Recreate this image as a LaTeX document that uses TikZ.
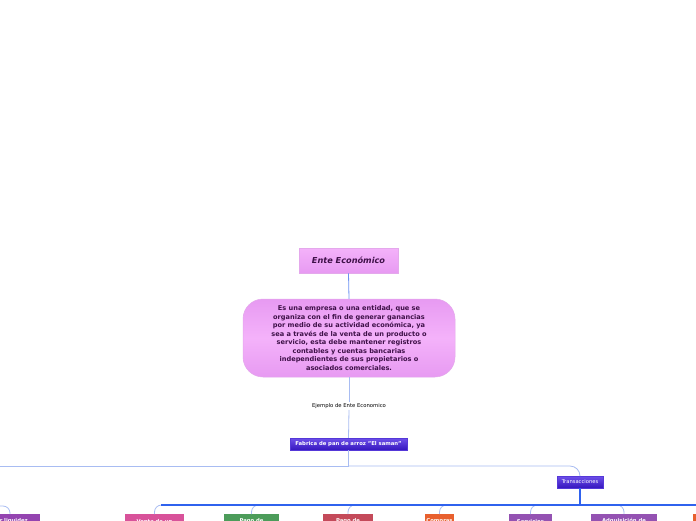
\documentclass[tikz,border=0pt]{standalone}
\usepackage{fontspec}
\setmainfont{DejaVu Sans}
\begin{document}
\begin{tikzpicture}[x=1pt,y=-1pt,
  lconn/.style={draw=lightline, line width=0.8pt},
  bar/.style={draw=barblue, line width=1.8pt},
  pinkbox/.style={draw=pinkedge, line width=0.5pt, top color=pinktop, bottom color=pinkbot, text=txtpurple, align=center, inner sep=0pt},
  bluebox/.style={draw=blueedge, line width=0.4pt, top color=bluetop, bottom color=bluebot, text=white, font=\fontsize{5}{6}\selectfont, inner sep=0pt, minimum height=12pt},
  leaf/.style={fill=#1, text=white, font=\bfseries\fontsize{5.3}{6}\selectfont, anchor=north, minimum height=14pt, inner sep=0pt, align=center},
]
\definecolor{lightline}{HTML}{A8BCF2}
\definecolor{barblue}{HTML}{2F62EE}
\definecolor{pinkedge}{HTML}{E4A8EC}
\definecolor{pinktop}{HTML}{F4B2FA}
\definecolor{pinkbot}{HTML}{E79AF2}
\definecolor{txtpurple}{HTML}{3E1048}
\definecolor{blueedge}{HTML}{5538D8}
\definecolor{bluetop}{HTML}{6E50EA}
\definecolor{bluebot}{HTML}{3516BE}
\definecolor{cpurple}{HTML}{9444B0}
\definecolor{cpink}{HTML}{D8529A}
\definecolor{cgreen}{HTML}{4C9C5A}
\definecolor{cred}{HTML}{C44A5A}
\definecolor{corange}{HTML}{E8602E}
\definecolor{cviolet}{HTML}{9452B2}
\useasboundingbox (0,0) rectangle (696,520);
\clip (0,0) rectangle (696,520);
\fill[white] (0,0) rectangle (696,520);

% main nodes
\node[pinkbox, minimum width=99pt, minimum height=25pt, font=\bfseries\itshape\fontsize{8.2}{9}\selectfont] (ente) at (348.5,260.5) {Ente Económico};
\node[pinkbox, rounded corners=20pt, minimum width=212pt, minimum height=78pt, top color=pinkbot, bottom color=pinkbot, middle color=pinktop, font=\bfseries\fontsize{6.6}{8.45}\selectfont] (def) at (349,338) {Es una empresa o una entidad, que se\\organiza con el fin de generar ganancias\\por medio de su actividad económica, ya\\sea a través de la venta de un producto o\\servicio, esta debe mantener registros\\contables y cuentas bancarias\\independientes de sus propietarios o\\asociados comerciales.};
\node[font=\fontsize{5.3}{6}\selectfont, inner sep=1pt] (ej) at (349,406) {Ejemplo de Ente Economico};
\node[bluebox, font=\bfseries\fontsize{5.3}{6}\selectfont, minimum width=117pt] (fab) at (348.5,444) {Fabrica de pan de arroz "El saman"};
\node[bluebox, font=\fontsize{5.2}{6}\selectfont, minimum width=46pt] (trans) at (580,482) {Transacciones};

% bottom row
\node[leaf=cpurple, minimum width=60pt] (l0) at (10,514) {Por liquidez};
\node[leaf=cpink, minimum width=59pt] (l1) at (154.5,514) {Venta de un};
\node[leaf=cgreen, minimum width=55pt] (l2) at (251.5,514) {Pago de};
\node[leaf=cred, minimum width=50pt] (l3) at (348,514) {Pago de};
\node[leaf=corange, minimum width=29pt] (l4) at (439.5,514) {Compras};
\node[leaf=cviolet, minimum width=43pt] (l5) at (530.5,514) {Servicios};
\node[leaf=cviolet, minimum width=66pt] (l6) at (624,514) {Adquisición de};
\node[leaf=corange, minimum width=30pt] (l7) at (708,514) {Otros};

% connectors
\draw[draw=barblue!70, line width=0.8pt] (ente.south) -- (def.north);
\draw[lconn] (def.south) -- (ej.north);
\draw[lconn] (ej.south) -- (fab.north);
\coordinate (j1) at (348.5,466);
\coordinate (jleft) at (-40,466);
\draw[lconn] (fab.south) -- (j1);
\draw[lconn] (j1) -- (jleft);
\draw[lconn, rounded corners=10pt] (j1) -| (trans.north);
\coordinate (jl0) at (-40,506);
\draw[lconn, rounded corners=7pt] (jl0) -| (l0.north);

\coordinate (j2) at (580,505);
\coordinate (j2r) at (720,505);
\coordinate (j2l) at (161,505);
\foreach \n in {l1,l2,l3,l4,l5,l6,l7}{
  \draw[lconn, rounded corners=7pt] (j2) -| (\n.north);
}
\draw[bar] (j2l) -- (j2r);
\draw[bar] (trans.south) -- (j2);
\end{tikzpicture}
\end{document}
